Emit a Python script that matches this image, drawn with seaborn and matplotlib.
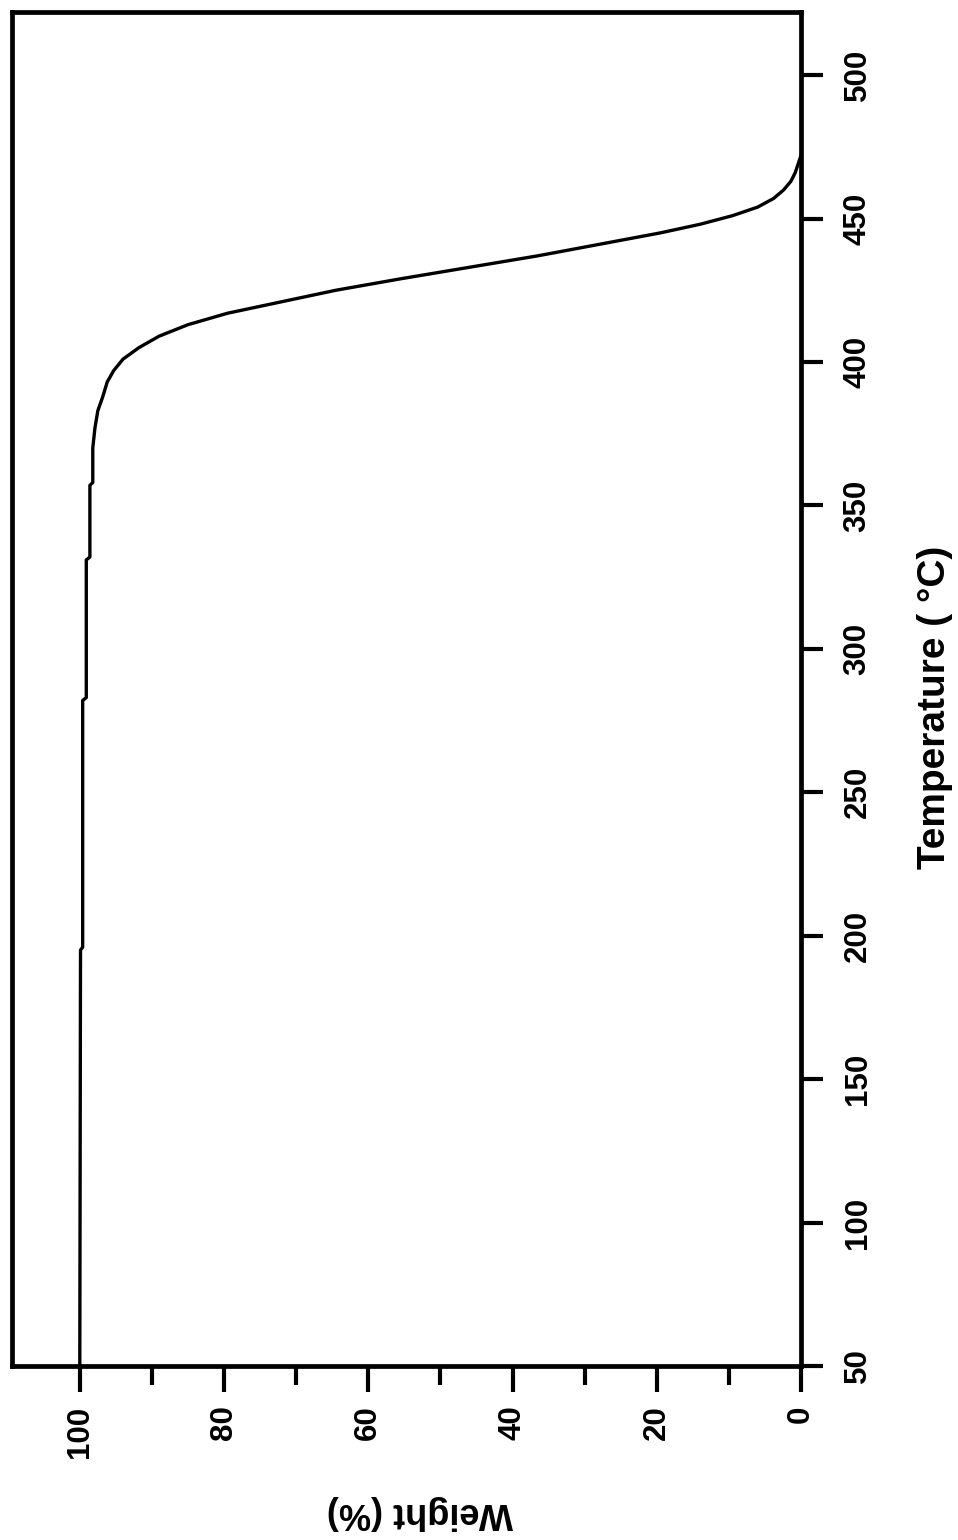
import numpy as np
import pandas as pd
import matplotlib
matplotlib.use("Agg")
import matplotlib.pyplot as plt
import seaborn as sns
from matplotlib.ticker import FixedLocator

# ---- data ----
temperature_c = [50, 195, 196, 282, 283, 331, 332, 357, 358, 370, 377, 383, 388,
                 393, 397, 401, 405, 409, 413, 417, 421, 425, 429, 433, 437, 441,
                 445, 448, 451, 454, 457, 460, 463, 466, 469, 472]
weight_pct = [100.0, 99.9, 99.6, 99.6, 99.1, 99.1, 98.6, 98.6, 98.2, 98.2, 97.9,
              97.5, 96.8, 96.2, 95.3, 94.0, 91.8, 89.0, 85.0, 79.5, 72.0, 64.5,
              55.5, 46.0, 36.5, 28.0, 19.5, 14.0, 9.5, 6.0, 3.8, 2.4, 1.4, 0.8,
              0.4, 0.0]

weight_major_ticks = [0, 20, 40, 60, 80, 100]
weight_major_labels = ["0", "20", "40", "60", "80", "100"]
weight_minor_ticks = [10, 30, 50, 70, 90]
temp_ticks = [50, 100, 150, 200, 250, 300, 350, 400, 450, 500]
temp_labels = ["50", "100", "150", "200", "250", "300", "350", "400", "450", "500"]

x_label = "Weight (%)"
y_label = "Temperature ( °C)"

# ---- style ----
sns.set_theme(style="ticks")
plt.rcParams['font.family'] = ['Liberation Sans', 'DejaVu Sans']
plt.rcParams['axes.edgecolor'] = 'black'
plt.rcParams['text.color'] = 'black'
plt.rcParams['axes.labelcolor'] = 'black'
plt.rcParams['xtick.color'] = 'black'
plt.rcParams['ytick.color'] = 'black'
plt.rcParams['xtick.labelcolor'] = 'black'
plt.rcParams['ytick.labelcolor'] = 'black'

W, H = 958, 1540
fig = plt.figure(figsize=(W / 100, H / 100), dpi=100)
left, right, top, bottom = 12, 801, 12, 1366
ax = fig.add_axes([left / W, 1 - bottom / H, (right - left) / W, (bottom - top) / H])

df = pd.DataFrame({"Temperature": temperature_c, "Weight": weight_pct})
sns.lineplot(data=df, x="Weight", y="Temperature", sort=False, estimator=None,
             color="black", linewidth=2.4, ax=ax)

ax.set_xlim(109.4, 0)
ax.set_ylim(50, 522)

for s in ax.spines.values():
    s.set_linewidth(3.4)
    s.set_color("black")

# weight axis (bottom)
ax.xaxis.set_major_locator(FixedLocator(weight_major_ticks))
ax.xaxis.set_minor_locator(FixedLocator(weight_minor_ticks))
ax.set_xticklabels(weight_major_labels, rotation=90, fontsize=22.5,
                   fontweight="bold", va="top", ha="center", color="black")
ax.tick_params(axis="x", which="major", length=18.5, width=3, pad=10,
               direction="out", bottom=True, top=False, color="black")
ax.tick_params(axis="x", which="minor", length=13.5, width=3,
               direction="out", bottom=True, top=False, color="black")

# temperature axis (right)
ax.yaxis.tick_right()
ax.set_yticks(temp_ticks)
ax.set_yticklabels(temp_labels, rotation=90, fontsize=22.5, fontweight="bold",
                   va="center", ha="left", color="black")
ax.tick_params(axis="y", which="major", length=16, width=3, pad=14,
               direction="out", right=True, left=False, color="black")
ax.tick_params(axis="y", which="minor", left=False, right=False)

ax.yaxis.set_label_position("right")
ax.set_ylabel(y_label, fontsize=28, fontweight="bold", rotation=90, color="black")
ax.yaxis.set_label_coords((917 - left) / (right - left), (bottom - 707) / (bottom - top))

ax.set_xlabel(x_label, fontsize=26, fontweight="bold", rotation=180, color="black")
ax.xaxis.set_label_coords((420 - left) / (right - left), (bottom - 1495) / (bottom - top))

ax.grid(False)
fig.savefig("out.png", dpi=100, facecolor="white")
